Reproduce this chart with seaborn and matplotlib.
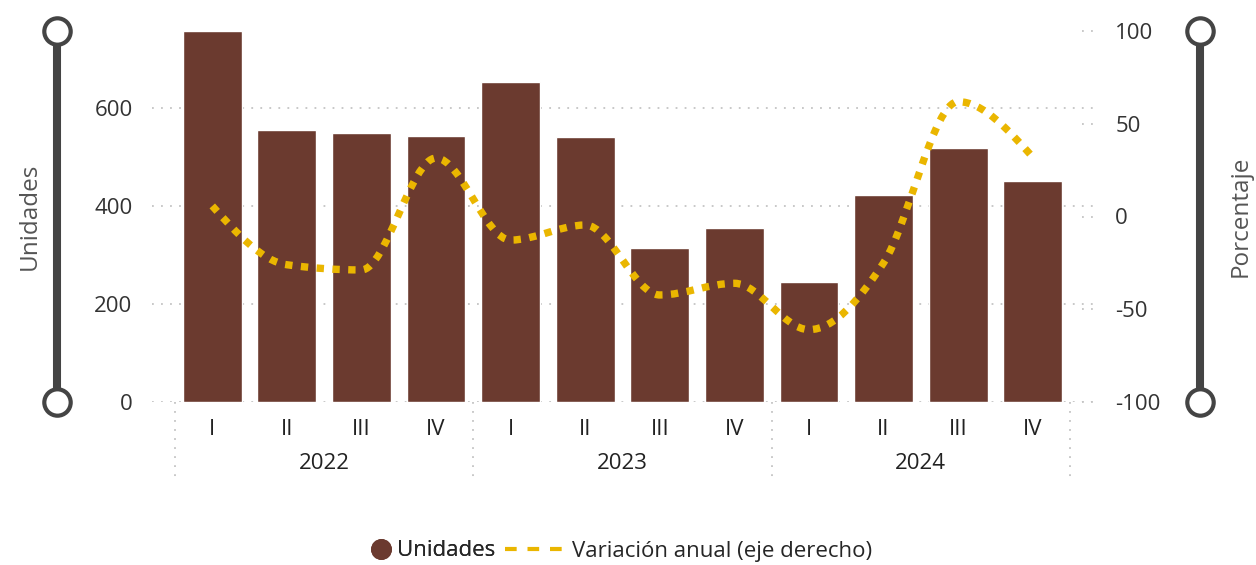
import numpy as np
import pandas as pd
import matplotlib
matplotlib.use("Agg")
import matplotlib.pyplot as plt
import seaborn as sns
from matplotlib.path import Path
from matplotlib.patches import PathPatch
from matplotlib.lines import Line2D

# datos
years = ["2022", "2023", "2024"]
quarters = ["I", "II", "III", "IV"]
unidades = [757, 555, 549, 543, 653, 541, 314, 355, 245, 422, 518, 451]
variacion = [5.7, -26, -28.8, 31.5, -12.7, -4.6, -42.3, -36, -61, -25, 61.9, 32]
right_ticks = [-100, -50, 0, 50, 100]

BROWN = "#6B3A2F"
GOLD = "#EAB600"
GRID = "#C4C4C4"
AXDARK = "#444444"

df = pd.DataFrame({
    "periodo": [f"{y}-{q}" for y in years for q in quarters],
    "trimestre": quarters * len(years),
    "unidades": unidades,
    "variacion": variacion,
})

sns.set_theme(style="white")
plt.rcParams["font.family"] = ["Open Sans", "DejaVu Sans"]
plt.rcParams["axes.unicode_minus"] = False

fig = plt.figure(figsize=(12.56, 5.65), dpi=100)
ax = fig.add_axes([152 / 1256, 1 - 402 / 565, 941 / 1256, 371 / 565])
ax2 = ax.twinx()
ax2.patch.set_visible(False)

sns.barplot(data=df, x="periodo", y="unidades", color=BROWN, width=0.79,
            saturation=1, ax=ax)
ax.set_xlim(-0.808, 11.808)
ax.set_ylim(0, 757)
ax.set_yticks([0, 200, 400, 600])
ax.set_axisbelow(True)
ax.grid(axis="y", color=GRID, linestyle=(0, (1, 4)), linewidth=1.3)
ax.set_xticks(range(len(df)))
ax.set_xticklabels(df["trimestre"])
ax.set_xlabel("")
ax.set_ylabel("")
ax.tick_params(axis="y", length=0, pad=14, labelsize=16, labelcolor="#333333")
ax.tick_params(axis="x", length=0, pad=12.5, labelsize=16, labelcolor="#222222")

ax2.set_ylim(-100, 100)
ax2.set_yticks(right_ticks)
ax2.tick_params(axis="y", length=0, pad=16, labelsize=16, labelcolor="#333333")
ax2.grid(False)
# short dotted stubs for the right axis
for v in right_ticks:
    ax2.plot([(1082 - 152) / 941, 1.0], [v, v], transform=ax2.get_yaxis_transform(),
             clip_on=False, color=GRID, linestyle=(0, (1, 4)), linewidth=1.3)

for a in (ax, ax2):
    for s in a.spines.values():
        s.set_visible(False)

# years under the quarters
for i, y in enumerate(years):
    ax.text(i * len(quarters) + (len(quarters) - 1) / 2, -0.165, y,
            transform=ax.get_xaxis_transform(), ha="center", va="center",
            fontsize=16, color="#222222")
for b in np.arange(len(years) + 1) * len(quarters) - 0.5:
    ax.plot([b, b], [0, -0.21], transform=ax.get_xaxis_transform(),
            clip_on=False, color=GRID, linestyle=(0, (1, 4)), linewidth=1.3)

# smooth line, monotone cubic through the points
x = np.arange(len(variacion), dtype=float)
y = np.array(variacion, dtype=float)
s = np.diff(y)
t = np.zeros(len(y))
for i in range(1, len(y) - 1):
    s0, s1 = s[i - 1], s[i]
    t[i] = (np.sign(s0) + np.sign(s1)) * min(abs(s0), abs(s1), 0.25 * abs(s0 + s1))
t[0] = (3 * s[0] - t[1]) / 2
t[-1] = (3 * s[-1] - t[-2]) / 2
verts = [(x[0], y[0])]
codes = [Path.MOVETO]
for i in range(len(y) - 1):
    verts += [(x[i] + 1 / 3, y[i] + t[i] / 3), (x[i + 1] - 1 / 3, y[i + 1] - t[i + 1] / 3),
              (x[i + 1], y[i + 1])]
    codes += [Path.CURVE4] * 3
ax2.add_patch(PathPatch(Path(verts, codes), fill=False, edgecolor=GOLD,
                        linewidth=5.3, linestyle=(0, (1, 1.15)), capstyle="butt"))

# decorative axis bars
for xa in (-0.101, 1.1137):
    ax2.plot([xa, xa], [0, 1], transform=ax2.transAxes, clip_on=False,
             color=AXDARK, linewidth=5.8, solid_capstyle="butt")
    ax2.plot([xa, xa], [0, 1], "o", transform=ax2.transAxes, clip_on=False,
             markersize=19, markerfacecolor="white", markeredgecolor=AXDARK,
             markeredgewidth=3)

fig.text(30 / 1256, 1 - 216 / 565, "Unidades", rotation=90, ha="center",
         va="center", fontsize=17.5, color="#555555")
fig.text(1241 / 1256, 1 - 216 / 565, "Porcentaje", rotation=90, ha="center",
         va="center", fontsize=17.5, color="#555555")

ly = 1 - 551 / 565
leg1 = fig.legend([Line2D([], [], marker="o", linestyle="", color=BROWN, markersize=14)],
                  ["Unidades"], loc="center left", bbox_to_anchor=(370 / 1256, ly),
                  frameon=False, fontsize=16, handlelength=1.0, handletextpad=0.2,
                  borderpad=0, borderaxespad=0)
fig.legend([Line2D([], [], color=GOLD, linewidth=3, linestyle=(0, (2.8, 2.6)))],
           ["Variación anual (eje derecho)"], loc="center left",
           bbox_to_anchor=(505 / 1256, ly), frameon=False, fontsize=16,
           handlelength=2.8, handletextpad=0.2, borderpad=0, borderaxespad=0)
fig.add_artist(leg1)

fig.savefig("out.png", dpi=100)
